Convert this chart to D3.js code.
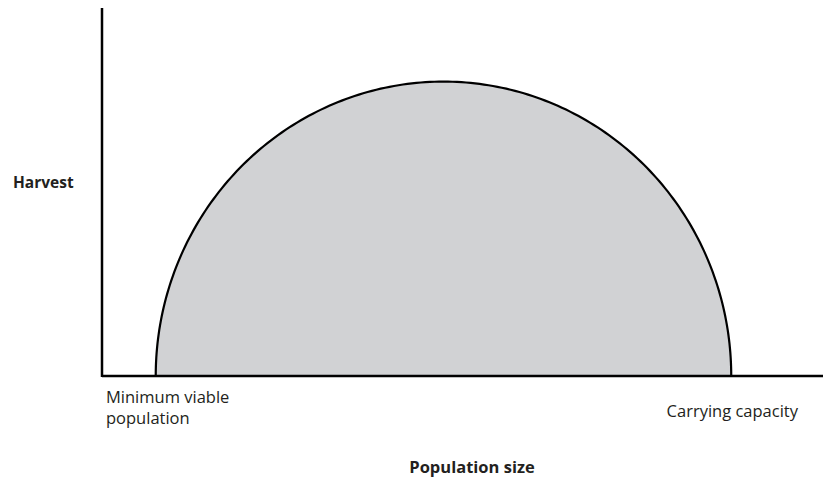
<!DOCTYPE html>
<html>
<head>
<meta charset="utf-8">
<script src="https://cdn.jsdelivr.net/npm/d3@7"></script>
<style>
  body { margin: 0; background: #fff; }
  text { font-family: "Open Sans", "Noto Sans", sans-serif; fill: #231f20; }
</style>
</head>
<body>
<div id="chart"></div>
<script>
(function(){
  'use strict';

  // population positions on a 0-100 scale
  var popPoints = [7.6, 89];          // minimum viable population, carrying capacity
  var popLabels = [['Minimum viable', 'population'], ['Carrying capacity']];
  var maxHarvest = [80];              // harvest at the peak of the curve

  var width = 824, height = 478;

  var svg = d3.select('#chart').append('svg')
    .attr('width', width)
    .attr('height', height);

  var x = d3.scaleLinear().domain([0, 100]).range([102, 809]);
  var y = d3.scaleLinear().domain([0, 100]).range([376, 8]);

  // the harvest curve: half an ellipse between the two population points
  var x0 = x(popPoints[0]), x1 = x(popPoints[1]);
  var rx = (x1 - x0) / 2;
  var ry = y(0) - y(maxHarvest[0]);
  var path = d3.path();
  path.moveTo(x0, y(0));
  var steps = 200;
  for (var i = 1; i <= steps; i++) {
    var t = Math.PI - Math.PI * i / steps;
    path.lineTo(x0 + rx + rx * Math.cos(t), y(0) - ry * Math.sin(t));
  }

  svg.append('path')
    .attr('d', path.toString())
    .attr('fill', '#d1d2d4')
    .attr('stroke', '#000')
    .attr('stroke-width', 2.2);

  // axes, plain lines with no ticks
  svg.append('line')
    .attr('x1', x(0)).attr('x2', 823)
    .attr('y1', y(0)).attr('y2', y(0))
    .attr('stroke', '#000').attr('stroke-width', 2.5);
  svg.append('line')
    .attr('x1', x(0)).attr('x2', x(0))
    .attr('y1', y(100)).attr('y2', y(0) + 1)
    .attr('stroke', '#000').attr('stroke-width', 2.5);

  // point labels under the axis
  svg.append('text')
    .attr('x', x(0) + 4).attr('y', 403)
    .style('font-size', '16.5px')
    .selectAll('tspan').data(popLabels[0]).enter()
    .append('tspan')
    .attr('x', x(0) + 4)
    .attr('dy', function(d, i) { return i ? 21 : 0; })
    .text(function(d) { return d; });

  svg.append('text')
    .attr('x', 798).attr('y', 417)
    .attr('text-anchor', 'end')
    .style('font-size', '16.5px')
    .text(popLabels[1][0]);

  // axis titles
  svg.append('text')
    .attr('x', 13).attr('y', 188)
    .style('font-size', '15.5px').style('font-weight', 'bold')
    .text('Harvest');

  svg.append('text')
    .attr('x', 472).attr('y', 473)
    .attr('text-anchor', 'middle')
    .style('font-size', '16.5px').style('font-weight', 'bold')
    .text('Population size');

})();
</script>
</body>
</html>
